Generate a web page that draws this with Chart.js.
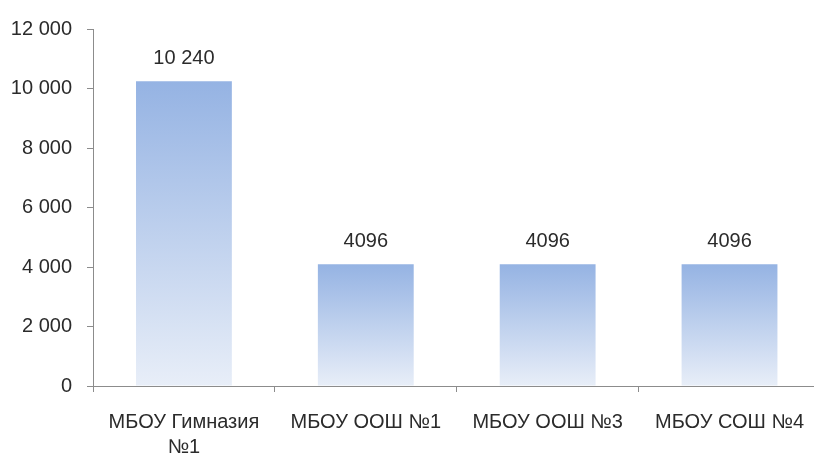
<!DOCTYPE html>
<html>
<head>
<meta charset="utf-8">
<script src="https://cdn.jsdelivr.net/npm/chart.js@4/dist/chart.umd.min.js"></script>
<style>
  html, body { margin: 0; padding: 0; background: #fff; overflow: hidden; }
  #wrap { width: 822px; height: 455px; position: relative; }
</style>
</head>
<body>
<div id="wrap"><canvas id="chart"></canvas></div>
<script>
// data
const categories = [['МБОУ Гимназия', '№1'], 'МБОУ ООШ №1', 'МБОУ ООШ №3', 'МБОУ СОШ №4'];
const values = [10240, 4096, 4096, 4096];
const yTicks = [0, 2000, 4000, 6000, 8000, 10000, 12000];

const fontFamily = '"Liberation Sans", Arial, sans-serif';
const textColor = '#2b2b2b';
const axisColor = '#8c8c8c';

// thousands grouped with a space, 4-digit numbers left as is (like the source)
const fmt = (n) => n >= 10000 || n === 0 || n % 1000 === 0
    ? String(n).replace(/\B(?=(\d{3})+(?!\d))/g, ' ')
    : String(n);

const barGradient = (ctx) => {
    const chart = ctx.chart;
    if (!chart.chartArea) return '#b4c7ea';
    const y = chart.scales.y;
    const top = y.getPixelForValue(ctx.raw);
    const bottom = y.getPixelForValue(0);
    const g = chart.ctx.createLinearGradient(0, top, 0, bottom);
    g.addColorStop(0, '#95b3e3');
    g.addColorStop(1, '#e8eef8');
    return g;
};

const valueLabels = {
    id: 'valueLabels',
    afterDatasetsDraw(chart) {
        const ctx = chart.ctx;
        const meta = chart.getDatasetMeta(0);
        ctx.save();
        ctx.font = '20px ' + fontFamily;
        ctx.fillStyle = textColor;
        ctx.textAlign = 'center';
        ctx.textBaseline = 'middle';
        meta.data.forEach((bar, i) => {
            ctx.fillText(fmt(values[i]), bar.x, bar.y - 23);
        });
        ctx.restore();
    }
};

new Chart(document.getElementById('chart'), {
    type: 'bar',
    data: {
        labels: categories,
        datasets: [{
            data: values,
            backgroundColor: barGradient,
            borderWidth: 0,
            barPercentage: 0.527,
            categoryPercentage: 1
        }]
    },
    plugins: [valueLabels],
    options: {
        responsive: true,
        maintainAspectRatio: false,
        animation: false,
        layout: { padding: { top: 29, left: 0, right: 0, bottom: 0 } },
        plugins: { legend: { display: false }, tooltip: { enabled: false } },
        scales: {
            x: {
                afterFit: (s) => { s.height = 69; },
                grid: { offset: true, drawOnChartArea: false, drawTicks: true, tickLength: 6, color: axisColor },
                border: { color: axisColor },
                ticks: { color: textColor, font: { family: fontFamily, size: 20, lineHeight: 1.25 }, padding: 18, maxRotation: 0, autoSkip: false }
            },
            y: {
                min: 0,
                max: 12000,
                afterFit: (s) => { s.width = 93; },
                afterBuildTicks: (s) => { s.ticks = yTicks.map(v => ({ value: v })); },
                grid: { drawOnChartArea: false, drawTicks: true, tickLength: 6, color: axisColor },
                border: { color: axisColor },
                ticks: { color: textColor, font: { family: fontFamily, size: 20 }, padding: 15, callback: (v) => fmt(v) }
            }
        }
    }
});
</script>
</body>
</html>
